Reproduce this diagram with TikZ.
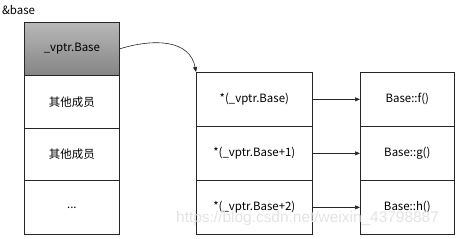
\documentclass[tikz,border=0pt]{standalone}
\usepackage{fontspec}
\setmainfont{Noto Sans CJK SC}
\newfontfamily\wmfont{Liberation Sans}
\usetikzlibrary{arrows.meta}
\begin{document}
\begin{tikzpicture}[x=1bp,y=-1bp,
  cell/.style={draw=black!85,line width=0.7pt,minimum width=#1,inner sep=0pt,font=\fontsize{11.5}{13}\selectfont,anchor=north west},
  cell/.default=94bp,
  ptr/.style={-{Triangle[length=5pt,width=4pt]},line width=0.6pt,black!85},
  lbl/.style={font=\fontsize{11.5}{13}\selectfont}]
\useasboundingbox (0,0) rectangle (458,238);
% left column
\node[cell=95bp,minimum height=53bp,top color=black!28,bottom color=black!48] (v) at (24,22) {\_vptr.Base};
\node[cell=95bp,minimum height=53bp] (m1) at (24,75) {其他成员};
\node[cell=95bp,minimum height=52bp] (m2) at (24,128) {其他成员};
\node[cell=95bp,minimum height=54bp] (m3) at (24,180) {...};
\node[lbl,anchor=west,inner sep=0pt] (addr) at (2,10) {\&base};
% middle column
\node[cell=116bp,minimum height=54bp] (p0) at (196,72) {*(\_vptr.Base)};
\node[cell=116bp,minimum height=54bp] (p1) at (196,126) {*(\_vptr.Base+1)};
\node[cell=116bp,minimum height=54bp] (p2) at (196,180) {*(\_vptr.Base+2)};
% right column
\node[cell=94bp,minimum height=54bp] (f0) at (360,72) {Base::f()};
\node[cell=94bp,minimum height=54bp] (f1) at (360,126) {Base::g()};
\node[cell=94bp,minimum height=54bp] (f2) at (360,180) {Base::h()};
% arrows
\draw[ptr] (p0.east) -- (f0.west);
\draw[ptr] (p1.east) -- (f1.west);
\draw[ptr] (p2.east) -- (f2.west);
\draw[ptr] (v.east) .. controls (155,38) and (190,40) .. (p0.north west);
% watermark
\node[font=\wmfont\fontsize{15.5}{17}\selectfont,text=black!11,anchor=west,inner sep=0pt] (wm) at (176,218) {https://blog.csdn.net/weixin\_43798887};
\end{tikzpicture}
\end{document}
